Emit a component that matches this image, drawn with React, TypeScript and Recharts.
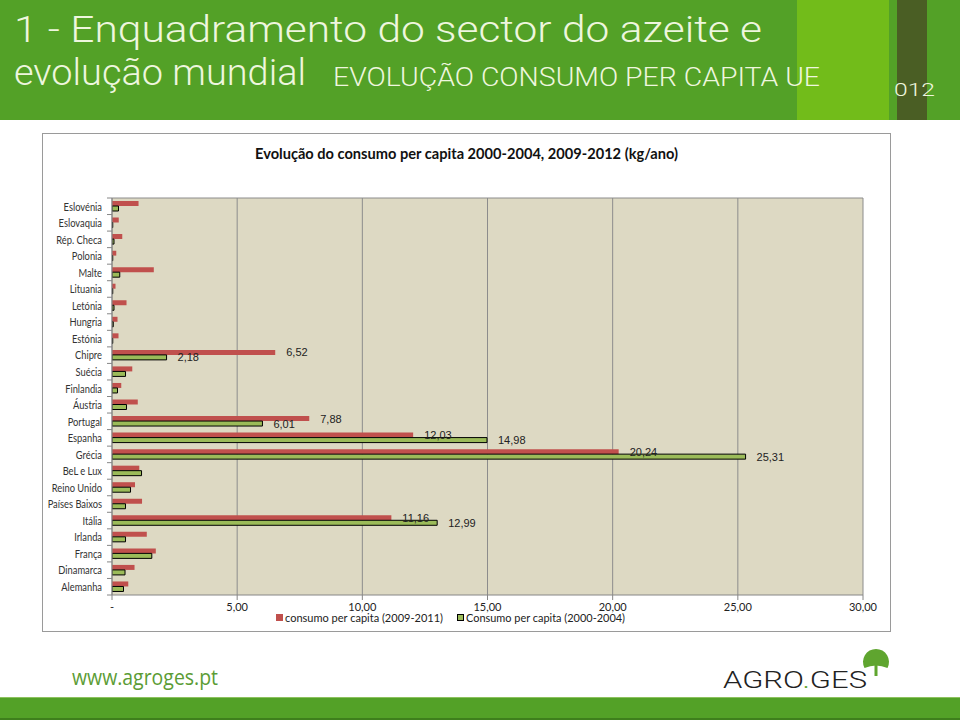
import React from 'react';
import { BarChart, Bar, XAxis, YAxis, CartesianGrid, LabelList } from 'recharts';

const countries = [
  'Eslovénia', 'Eslovaquia', 'Rép. Checa', 'Polonia', 'Malte', 'Lituania', 'Letónia', 'Hungria',
  'Estónia', 'Chipre', 'Suécia', 'Finlandia', 'Áustria', 'Portugal', 'Espanha', 'Grécia',
  'BeL e Lux', 'Reino Unido', 'Países Baixos', 'Itália', 'Irlanda', 'França', 'Dinamarca', 'Alemanha',
];
// kg/ano
const consumo20092011 = [
  1.06, 0.27, 0.41, 0.17, 1.67, 0.14, 0.58, 0.22, 0.26, 6.52, 0.81, 0.37,
  1.03, 7.88, 12.03, 20.24, 1.09, 0.92, 1.2, 11.16, 1.39, 1.75, 0.9, 0.65,
];
const consumo20002004 = [
  0.26, 0.03, 0.08, 0.03, 0.31, 0.03, 0.08, 0.05, 0.03, 2.18, 0.54, 0.22,
  0.58, 6.01, 14.98, 25.31, 1.18, 0.74, 0.54, 12.99, 0.54, 1.59, 0.52, 0.46,
];
const xTicks = [0, 5, 10, 15, 20, 25, 30];
const seriesNames = ['consumo per capita (2009-2011)', 'Consumo per capita (2000-2004)'];
const chartTitle = 'Evolução do consumo per capita 2000-2004, 2009-2012 (kg/ano)';

const RED = '#C0504D';
const GREEN = '#9BBB59';
const PLOT_H = 397;

const data = countries.map((c, i) => ({ country: c, recent: consumo20092011[i], old: consumo20002004[i] }));

const fmt = (v: number) => (v === 0 ? '-' : v.toFixed(2).replace('.', ','));

const CategoryTick = (props: any) => {
  const { x, y, payload, index } = props;
  const band = PLOT_H / countries.length;
  return (
    <g>
      {/* narrowed to mimic Calibri */}
      <text transform={`translate(${x},${y}) scale(0.85,1)`} textAnchor="end" dominantBaseline="central"
        fontSize={11} fill="#333" fontFamily="Lato">
        {payload.value}
      </text>
      <line x1={x + 5} x2={x + 10} y1={y - band / 2} y2={y - band / 2} stroke="#868686" />
      {index === countries.length - 1 && (
        <line x1={x + 5} x2={x + 10} y1={y + band / 2} y2={y + band / 2} stroke="#868686" />
      )}
    </g>
  );
};

const valueLabel = (props: any) => {
  const { x, y, width, height, value } = props;
  if (value < 2) return null;
  return (
    <text x={x + width + 11} y={y + height / 2} dominantBaseline="central" fontSize={11} fill="#222"
      fontFamily="Liberation Sans">
      {fmt(value)}
    </text>
  );
};

export default function App() {
  return (
    <div style={{ position: 'relative', width: 960, height: 720, background: '#fff', overflow: 'hidden' }}>
      <style>{'body{margin:0}'}</style>

      {/* header band */}
      <svg width={960} height={120} style={{ position: 'absolute', left: 0, top: 0 }}>
        <rect x={0} y={0} width={960} height={120} fill="#53A127" />
        <rect x={797} y={0} width={92} height={120} fill="#72BC1A" />
        <rect x={897} y={0} width={30} height={120} fill="#4A5E24" />
        <g fill="#EEF6DE" fontFamily="Roboto" fontWeight={300}>
          <text x={14} y={42} fontSize={37} textLength={748} lengthAdjust="spacingAndGlyphs">
            1 - Enquadramento do sector do azeite e
          </text>
          <text x={14} y={85} fontSize={37} textLength={292} lengthAdjust="spacingAndGlyphs">
            evolução mundial
          </text>
          <text x={333} y={86} fontSize={26} textLength={487} lengthAdjust="spacingAndGlyphs">
            EVOLUÇÃO CONSUMO PER CAPITA UE
          </text>
          <text x={894} y={96} fontSize={18} textLength={41} lengthAdjust="spacingAndGlyphs">
            012
          </text>
        </g>
      </svg>

      {/* chart frame */}
      <div style={{ position: 'absolute', left: 42, top: 133, width: 849, height: 499, boxSizing: 'border-box',
        border: '1px solid #9A9A9A' }} />

      <div style={{ position: 'absolute', left: 42, top: 133 }}>
        <BarChart width={849} height={499} data={data} layout="vertical" barSize={5} barGap={0}
          margin={{ top: 65, right: 28, bottom: 15, left: 0 }}>
          <CartesianGrid horizontal horizontalPoints={[198 - 133]} fill="#DDD9C3" stroke="#8C8C8C" />
          <XAxis type="number" domain={[0, 30]} ticks={xTicks} allowDataOverflow height={22}
            tickFormatter={fmt} tickSize={5} tickMargin={3} stroke="#868686"
            tick={{ fontSize: 11, fill: '#222', fontFamily: 'Lato' }} />
          <YAxis type="category" dataKey="country" width={70} tickSize={5} tickMargin={5} tickLine={false}
            stroke="#868686" tick={<CategoryTick />} interval={0} />
          <Bar dataKey="recent" name={seriesNames[0]} fill={RED} isAnimationActive={false}>
            <LabelList dataKey="recent" content={valueLabel} />
          </Bar>
          <Bar dataKey="old" name={seriesNames[1]} fill={GREEN} stroke="#000" strokeWidth={1} isAnimationActive={false}>
            <LabelList dataKey="old" content={valueLabel} />
          </Bar>
        </BarChart>
      </div>

      {/* chart title and legend */}
      <svg width={960} height={720} style={{ position: 'absolute', left: 0, top: 0, pointerEvents: 'none' }}>
        <text x={255} y={159} fontSize={14.5} fontWeight={700} fontFamily="Lato" fill="#111" textLength={423}
          lengthAdjust="spacingAndGlyphs">
          {chartTitle}
        </text>
        <rect x={276} y={614} width={7} height={7} fill={RED} />
        <text x={285} y={622} fontSize={12} fontFamily="Lato" fill="#222" textLength={158}
          lengthAdjust="spacingAndGlyphs">{seriesNames[0]}</text>
        <rect x={457.5} y={614.5} width={6} height={6} fill={GREEN} stroke="#000" />
        <text x={466} y={622} fontSize={12} fontFamily="Lato" fill="#222" textLength={159}
          lengthAdjust="spacingAndGlyphs">{seriesNames[1]}</text>

        {/* footer */}
        <text x={72} y={685} fontSize={22} fontFamily="Open Sans" fill="#5B9C35" textLength={146}
          lengthAdjust="spacingAndGlyphs">www.agroges.pt</text>
        <text x={723} y={688} fontSize={23} fontFamily="Roboto" fontWeight={300} fill="#222" textLength={144}
          lengthAdjust="spacingAndGlyphs">
          AGRO<tspan fill="#5FA52F">.</tspan>GES
        </text>
        <path d="M864.5,668 A13,13 0 1 1 887.5,668 Q876,663 864.5,668 Z" fill="#5FA52F" />
        <rect x={874.5} y={664} width={3} height={12} fill="#5FA52F" />
        <rect x={0} y={697} width={960} height={1} fill="#8DC25E" />
        <rect x={0} y={698} width={960} height={22} fill="#53A127" />
        <rect x={0} y={718} width={960} height={2} fill="#3E7F1C" />
      </svg>
    </div>
  );
}
